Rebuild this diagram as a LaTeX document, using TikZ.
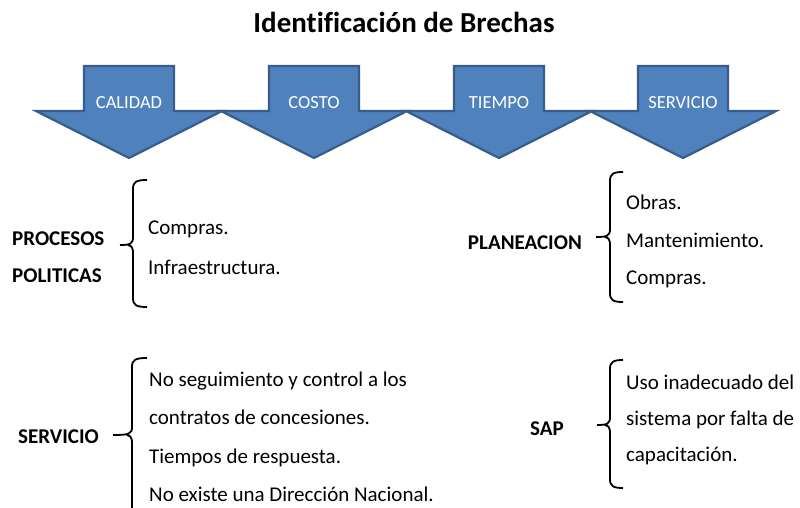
\documentclass[tikz,border=0pt]{standalone}
\usepackage{fontspec}
\setmainfont{Carlito}[Ligatures=NoCommon]
\definecolor{arrowfill}{HTML}{4F81BD}
\definecolor{arrowline}{HTML}{385D8A}
\tikzset{
  arrowshape/.style={fill=arrowfill, draw=arrowline, line width=2.2pt, line join=miter},
  arrowlabel/.style={text=white, font=\fontsize{18.5}{21}\selectfont, inner sep=0pt, anchor=base},
  titletext/.style={font=\fontsize{29}{32}\selectfont\bfseries, inner sep=0pt, anchor=base},
  bodytext/.style={font=\fontsize{21}{25}\selectfont, inner sep=0pt, anchor=base west},
  labeltext/.style={font=\fontsize{21}{25}\selectfont\bfseries, inner sep=0pt, anchor=base west},
  bracepath/.style={draw=black, line width=1.8pt, line cap=butt}
}
\newcommand{\mybrace}[6]{% x, top, tip, bottom, tipx, hookx
  \draw[bracepath] (#6,#2) .. controls ({#1+3},#2) and (#1,{#2+2}) .. (#1,{#2+9})
    -- (#1,{#3-8}) .. controls (#1,{#3-1}) and ({#1-3},#3) .. (#5,#3)
    (#1,{#3+8}) .. controls (#1,{#3+1}) and ({#1-3},#3) .. ({#1-5},#3)
    (#1,{#3+8}) -- (#1,{#4-9}) .. controls (#1,{#4-2}) and ({#1+3},#4) .. (#6,#4);
}
\begin{document}
\begin{tikzpicture}[x=1pt,y=-1pt]
\clip (0,0) rectangle (800,508);
\useasboundingbox (0,0) rectangle (800,508);
\fill[white] (0,0) rectangle (800,508);

\node[titletext] (title) at (404,33) {Identificación de Brechas};

\foreach \cx/\lab/\nm in {129/CALIDAD/a1, 314/COSTO/a2, 499/TIEMPO/a3, 683/SERVICIO/a4}{
  \draw[arrowshape] ({\cx-45},66) -- ({\cx+45},66) -- ({\cx+45},111) -- ({\cx+93},111)
     -- (\cx,158) -- ({\cx-93},111) -- ({\cx-45},111) -- cycle;
  \node[arrowlabel] (\nm) at (\cx,109) {\lab};
}

% Block 1
\node[labeltext] (procesos) at (12,245) {PROCESOS};
\node[labeltext] (politicas) at (12,282) {POLITICAS};
\mybrace{133}{180}{245}{307}{120}{147}
\node[bodytext] (compras1) at (148,234) {Compras.};
\node[bodytext] (infra) at (148,274) {Infraestructura.};

% Block 2
\node[labeltext, anchor=base east] (planeacion) at (582,249) {PLANEACION};
\mybrace{610}{172}{237}{302}{596}{623}
\node[bodytext] (obras) at (626,209) {Obras.};
\node[bodytext] (mant) at (626,247) {Mantenimiento.};
\node[bodytext] (compras2) at (626,284) {Compras.};

% Block 3
\node[labeltext] (servicio) at (18,443) {SERVICIO};
\mybrace{132}{358}{435}{530}{113}{147}
\node[bodytext] (s1) at (149,386) {No seguimiento y control a los};
\node[bodytext] (s2) at (149,424) {contratos de concesiones.};
\node[bodytext] (s3) at (149,463) {Tiempos de respuesta.};
\node[bodytext] (s4) at (149,501) {No existe una Dirección Nacional.};

% Block 4
\node[labeltext] (sap) at (530,435) {SAP};
\mybrace{610}{360}{425}{488}{597}{623}
\node[bodytext] (u1) at (626,389) {Uso inadecuado del};
\node[bodytext] (u2) at (626,425) {sistema por falta de};
\node[bodytext] (u3) at (626,461) {capacitación.};
\end{tikzpicture}
\end{document}
